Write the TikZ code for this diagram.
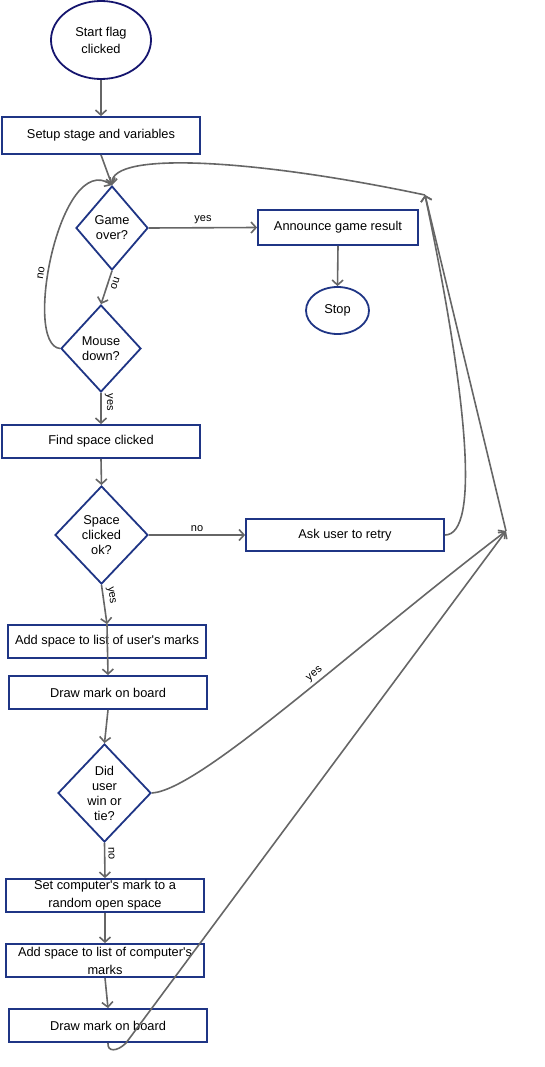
\documentclass[tikz,border=0pt]{standalone}
\usepackage{fontspec}
\setmainfont{Liberation Sans}[Ligatures=TeXOff]
\usetikzlibrary{shapes.geometric,arrows.meta}
\definecolor{boxblue}{HTML}{1F3585}
\definecolor{startblue}{HTML}{15156E}
\definecolor{linegray}{HTML}{666666}

\begin{document}
\begin{tikzpicture}
  [x=1pt,y=-1pt,
   every node/.style={font=\fontsize{12.8}{17}\selectfont,align=center,inner sep=0pt},
   terminal/.style={ellipse,draw=boxblue,line width=1.8pt},
   process/.style={rectangle,draw=boxblue,line width=1.8pt,minimum width=198pt,minimum height=33pt,font=\fontsize{12.8}{18}\selectfont},
   decision/.style={diamond,draw=boxblue,line width=1.8pt,aspect=1,font=\fontsize{12.8}{15}\selectfont},
   flow/.style={draw=linegray,line width=1.6pt,-{Straight Barb[length=5pt,width=11pt]}},
   lbl/.style={font=\fontsize{11}{12}\selectfont,sloped,allow upside down,inner sep=3pt}]
\useasboundingbox (0,0) rectangle (544,1067);

\node (start)[terminal,draw=startblue,minimum width=100pt,minimum height=78pt] at (101,40) {Start flag\\clicked};
\node (setup)[process,minimum height=37pt] at (101,135.5) {Setup stage and variables};
\node (gameover)[decision,minimum width=72pt,minimum height=84pt] at (112,228) {Game\\over?};
\node (announce)[process,minimum width=160pt,minimum height=35pt] at (338,227.5) {Announce game result};
\node (stop)[terminal,minimum width=63pt,minimum height=47pt] at (337.5,310.5) {Stop};
\node (mouse)[decision,minimum width=80pt,minimum height=87pt] at (101,348.5) {Mouse\\down?};
\node (find)[process] at (101,441.5) {Find space clicked};
\node (spaceok)[decision,minimum width=93pt,minimum height=98pt] at (101.5,535) {Space\\clicked\\ok?};
\node (retry)[process,minimum height=32pt] at (345,535) {Ask user to retry};
\node (adduser)[process] at (107,641.5) {Add space to list of user's marks};
\node (drawuser)[process] at (108,692.5) {Draw mark on board};
\node (userwin)[decision,minimum width=93pt,minimum height=98pt] at (104.5,793) {Did\\user\\win or\\tie?};
\node (setcomp)[process] at (105,895.5) {Set computer's mark to a\\random open space};
\node (addcomp)[process] at (105,960.5) {Add space to list of computer's\\marks};
\node (drawcomp)[process] at (108,1025.5) {Draw mark on board};
\coordinate (j1) at (425,195);
\coordinate (j2) at (506,531);

 \foreach \from/\to in {start/setup,setup/gameover,announce/stop,find/spaceok,drawuser/userwin,setcomp/addcomp,addcomp/drawcomp}
    \draw[flow] (\from.south) -- (\to.north);
 \foreach \from/\to in {adduser/drawuser}
    \draw[flow] (\from.north) -- (\to.north);

 \draw[flow] (gameover.east) -- node[lbl,above] (yes1) {yes} (announce.west);
 \draw[flow] (gameover.south) -- node[lbl,above,pos=.3] (no1) {no} (mouse.north);
 \draw[flow] (mouse.west) .. controls (22,345) and (60,150) .. node[lbl,above,pos=.42] (no2) {no} (gameover.north);
 \draw[flow] (mouse.south) -- node[lbl,above,pos=.3] (yes2) {yes} (find.north);
 \draw[flow] (spaceok.east) -- node[lbl,above] (no3) {no} (retry.west);
 \draw[flow] (spaceok.south) -- node[lbl,above,pos=.3] (yes3) {yes} (adduser.north);
 \draw[flow] (userwin.east) .. controls (200,790) and (350,650) .. node[lbl,above,pos=.58] (yes4) {yes} (j2);
 \draw[flow] (userwin.south) -- node[lbl,above,pos=.3] (no4) {no} (setcomp.north);

 \draw[flow] (retry.east) .. controls (480,535) and (468,400) .. (j1);
 \draw[flow] (drawcomp.south) .. controls (107,1052) and (117,1052) .. (126,1043) -- (j2);
 \draw[flow] (j2) -- (j1);
 \draw[flow] (j1) .. controls (260,160) and (110,150) .. (gameover.north);
\end{tikzpicture}
\end{document}
